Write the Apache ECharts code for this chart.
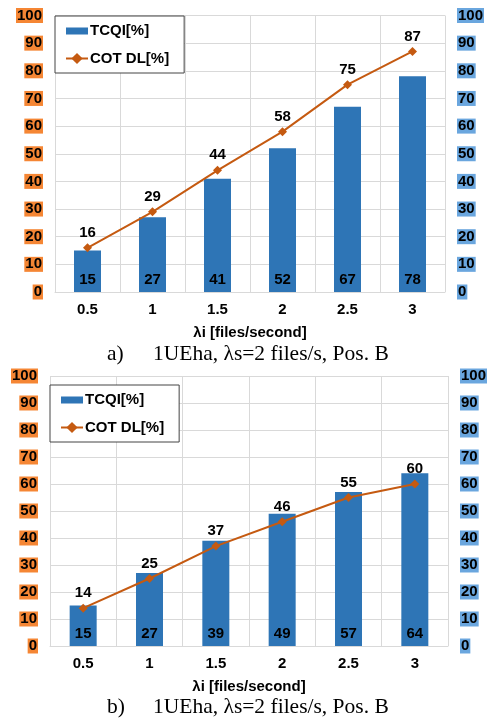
<!DOCTYPE html>
<html>
<head>
<meta charset="utf-8">
<script src="https://cdn.jsdelivr.net/npm/echarts@6/dist/echarts.min.js"></script>
<style>
html,body{margin:0;padding:0;background:#fff;}
#chart{width:493px;height:721px;}
</style>
</head>
<body>
<div id="chart"></div>
<script>
const categories = ['0.5', '1', '1.5', '2', '2.5', '3'];
const tcqiA = [15, 27, 41, 52, 67, 78];
const cotA = [16, 29, 44, 58, 75, 87];
const tcqiB = [15, 27, 39, 49, 57, 64];
const cotB = [14, 25, 37, 46, 55, 60];
const seriesNames = ['TCQI[%]', 'COT DL[%]'];
const xName = 'λi [files/second]';
const captionLabels = ['a)', 'b)'];
const captionText = '1UEha, λs=2 files/s, Pos. B';

const FONT = '"Liberation Sans", Arial, sans-serif';
const SERIF = '21.5px "Liberation Serif", "Times New Roman", serif';
const BAR = '#2E75B6';
const LINE = '#C55A11';
const ORANGE = '#F58634';
const LBLUE = '#6AA6DE';
const GRID = '#D9D9D9';

const grids = [
  {left: 55, width: 390, top: 15.5, height: 276.5},
  {left: 50, width: 398, top: 376, height: 270}
];

function xAxis(gi) {
  return {
    type: 'category', gridIndex: gi, data: categories, boundaryGap: true,
    axisTick: {show: false},
    axisLine: {show: true, lineStyle: {color: GRID, width: 1}},
    axisLabel: {color: '#000', fontFamily: FONT, fontWeight: 'bold', fontSize: 15, margin: 10},
    splitLine: {show: true, lineStyle: {color: GRID, width: 1}},
    name: xName, nameLocation: 'middle', nameGap: 33,
    nameTextStyle: {color: '#000', fontFamily: FONT, fontWeight: 'bold', fontSize: 15}
  };
}
function yAxis(gi, right) {
  return {
    type: 'value', gridIndex: gi, min: 0, max: 100, interval: 10,
    position: right ? 'right' : 'left',
    axisLine: {show: false}, axisTick: {show: false},
    splitLine: {show: !right, lineStyle: {color: GRID, width: 1}},
    axisLabel: {
      color: '#000', fontFamily: FONT, fontWeight: 'bold', fontSize: 15,
      backgroundColor: right ? LBLUE : ORANGE, padding: [1, 1, 0, 1], lineHeight: 14,
      margin: 12
    }
  };
}
function barSeries(data, xi, yi) {
  return {
    name: seriesNames[0], type: 'bar', xAxisIndex: xi, yAxisIndex: yi, data: data,
    barWidth: 27, itemStyle: {color: BAR},
    label: {show: true, position: 'insideBottom', distance: 5, color: '#000',
      fontFamily: FONT, fontWeight: 'bold', fontSize: 15}
  };
}
function lineSeries(data, xi, yi) {
  return {
    name: seriesNames[1], type: 'line', xAxisIndex: xi, yAxisIndex: yi, data: data,
    symbol: 'diamond', symbolSize: 9, z: 5,
    lineStyle: {color: LINE, width: 2}, itemStyle: {color: LINE},
    label: {show: true, position: 'top', distance: 3, color: '#000',
      fontFamily: FONT, fontWeight: 'bold', fontSize: 15}
  };
}
const barIcon = 'path://M0,0 L0.01,0 M0,4 L22,4 L22,11 L0,11 Z M0,14 L0.01,14';
function legend(left, top) {
  return {
    left: left, top: top, orient: 'vertical',
    data: [{name: seriesNames[0], icon: barIcon}, {name: seriesNames[1]}],
    itemWidth: 22, itemHeight: 14, itemGap: 13,
    padding: [7, 15, 7, 10], borderColor: '#444', borderWidth: 1, backgroundColor: '#fff',
    selectedMode: false,
    textStyle: {color: '#000', fontFamily: FONT, fontWeight: 'bold', fontSize: 15, padding: [0,0,0,-3]}
  };
}
function caption(label, y) {
  return [
    {type: 'text', x: 107, y: y, style: {text: label, fill: '#000', font: SERIF, textVerticalAlign: 'middle'}},
    {type: 'text', x: 153, y: y, style: {text: captionText, fill: '#000', font: SERIF, textVerticalAlign: 'middle'}}
  ];
}

const chart = echarts.init(document.getElementById('chart'), null, {renderer: 'canvas'});
chart.setOption({
  animation: false,
  backgroundColor: '#fff',
  grid: grids,
  legend: [legend(55, 16), legend(50, 385)],
  xAxis: [xAxis(0), xAxis(1)],
  yAxis: [yAxis(0, false), yAxis(0, true), yAxis(1, false), yAxis(1, true)],
  series: [
    barSeries(tcqiA, 0, 0), lineSeries(cotA, 0, 1),
    barSeries(tcqiB, 1, 2), lineSeries(cotB, 1, 3)
  ],
  graphic: caption(captionLabels[0], 354).concat(caption(captionLabels[1], 707))
});
</script>
</body>
</html>
